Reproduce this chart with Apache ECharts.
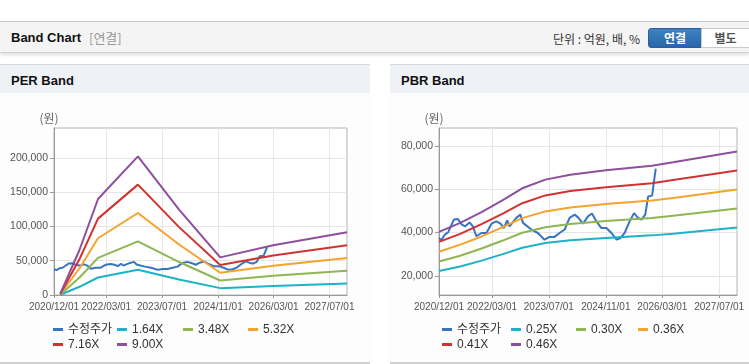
<!DOCTYPE html>
<html><head><meta charset="utf-8">
<script src="https://cdn.jsdelivr.net/npm/echarts@6/dist/echarts.min.js"></script>
<style>
body{margin:0;width:749px;height:364px;overflow:hidden;background:#fff;font-family:'Liberation Sans','Noto Sans CJK KR',sans-serif;position:relative}
.hdr{position:absolute;left:0;top:21px;width:749px;height:30px;border-top:1px solid #c9c9c9;border-bottom:1px solid #d3d3d3;background:#f4f4f4;box-shadow:0 2px 3px rgba(0,0,0,.13)}
.hdr .t{position:absolute;left:11px;top:8px;font-size:13px;font-weight:bold;color:#111}
.hdr .s{position:absolute;left:89px;top:8px;font-size:13px;color:#999;font-family:'Noto Sans CJK KR',sans-serif;line-height:16px}
.hdr .u{position:absolute;left:553px;top:9px;font-size:12px;color:#333;font-family:'Noto Sans CJK KR',sans-serif;line-height:15px}
.btn1{position:absolute;left:648px;top:6px;width:52px;height:18px;background:linear-gradient(#3d82c4,#2866a8);border:1px solid #2a5f99;border-radius:3px 0 0 3px;color:#fff;font-weight:bold;font-size:12px;text-align:center;line-height:18px;font-family:'Noto Sans CJK KR',sans-serif;box-sizing:content-box}
.btn2{position:absolute;left:701px;top:6px;width:47px;height:18px;background:#fff;border:1px solid #c9c9c9;color:#555;font-weight:bold;font-size:12px;text-align:center;line-height:18px;font-family:'Noto Sans CJK KR',sans-serif}
.panel{position:absolute;top:64px;height:297px;background:#fdfdfd;border-top:1px solid #d9d9d9;border-bottom:2px solid #d0d0d0}
.panel .bar{position:absolute;left:0;top:0;right:0;height:28px;background:#eef2f7}
.panel .bar span{position:absolute;left:11px;top:8px;font-size:13px;font-weight:bold;color:#111}
.chart{position:absolute;top:28px;left:0;height:269px}
</style></head>
<body>
<div class="hdr"><span class="t">Band Chart</span><span class="s">[연결]</span><span class="u">단위 : 억원, 배, %</span><div class="btn1">연결</div><div class="btn2">별도</div></div>
<div class="panel" style="left:0;width:370px"><div class="bar"><span>PER Band</span></div><div id="per" class="chart" style="width:370px"></div></div>
<div class="panel" style="left:390px;width:359px"><div class="bar"><span>PBR Band</span></div><div id="pbr" class="chart" style="width:359px"></div></div>
<script>
// ---- data ----
const xLabelDates = ['2020-12-01','2022-03-01','2023-07-01','2024-11-01','2026-03-01','2027-07-01'];
const xMin = '2020-12-01', xMax = '2027-12-01';
const perYTicks = [0,50000,100000,150000,200000];
const pbrYTicks = [20000,40000,60000,80000];

const priceDates = ['2020-12-01','2020-12-21','2021-01-19','2021-02-17','2021-04-08','2021-05-12','2021-06-15','2021-07-14','2021-08-20','2021-09-18','2021-10-17','2021-11-30','2022-01-12','2022-02-24','2022-04-06','2022-05-13','2022-06-10','2022-07-09','2022-07-29','2022-09-25','2022-10-30','2022-11-21','2023-02-02','2023-03-29','2023-05-25','2023-07-07','2023-08-19','2023-10-01','2023-11-14','2023-12-26','2024-02-08','2024-03-12','2024-04-19','2024-06-01','2024-07-05','2024-08-12','2024-09-24','2024-11-06','2024-12-19','2025-02-01','2025-03-08','2025-04-11','2025-05-24','2025-07-01','2025-08-04','2025-09-02','2025-10-05','2025-10-30','2025-12-03','2025-12-17','2026-01-03'];
const priceValues = [37500,36400,39000,40100,46000,46300,43700,42900,44700,42900,38300,39800,39800,44100,45200,44100,42100,45600,42900,46800,48300,44500,41400,39800,36700,38000,38000,39800,41400,46800,48300,46800,44100,47500,48800,45200,42100,42100,39800,36700,37500,39800,45200,49000,46800,46000,48300,56700,57100,62900,69600];

const perNames = ['수정주가','1.64X','3.48X','5.32X','7.16X','9.00X'];
const perBandDates = ['2021-01-25','2021-07-12','2021-12-20','2022-12-03','2023-11-27','2024-11-20','2026-02-25','2027-12-01'];
const perBand1 = [300,12000,25500,36900,22700,10000,13200,16700];
const perBand2 = [700,25500,54100,78200,48100,21200,28000,35400];
const perBand3 = [1100,39000,82800,119600,73600,32500,42800,54100];
const perBand4 = [1400,52500,111400,161000,99000,43700,57600,72700];
const perBand5 = [1800,66000,140000,202300,124500,54900,72500,91400];

const pbrNames = ['수정주가','0.25X','0.30X','0.36X','0.41X','0.46X'];
const pbrBandDates = ['2020-12-01','2021-06-01','2021-12-01','2022-06-01','2022-11-15','2023-06-01','2024-01-01','2024-11-01','2025-12-01','2026-06-01','2027-12-01'];
const pbrBand1 = [22200,24300,27000,30000,33000,35200,36400,37500,38700,39500,42300];
const pbrBand2 = [26600,29300,32600,36300,39900,42500,44000,45300,46700,47800,51100];
const pbrBand3 = [31100,34400,38200,42500,46700,49800,51600,53200,54800,56000,59900];
const pbrBand4 = [35700,39400,43900,48800,53600,57200,59200,61000,62800,64300,68700];
const pbrBand5 = [40300,44500,49500,55000,60500,64500,66800,68800,70900,72500,77500];

const colors = ['#3774c2','#1db2c7','#8fb650','#f4a42c','#d0332f','#8e4f9d'];

// ---- build ----
const FONT = "'Liberation Sans','Noto Sans CJK KR',sans-serif";
function pad(n){return n<10?'0'+n:''+n;}
function t(s){return Date.parse(s);}
function zip(d,v){return d.map((x,i)=>[t(x),v[i]]);}
function fmtDate(v){const d=new Date(v);return d.getUTCFullYear()+'/'+pad(d.getUTCMonth()+1)+'/'+pad(d.getUTCDate());}
function build(cfg){
  const series=[zip(priceDates,priceValues)].concat(cfg.bands.map(b=>zip(cfg.bandDates,b)));
  const xt=xLabelDates.map(t);
  return {
    animation:false,
    color:colors,
    textStyle:{fontFamily:FONT},
    grid:{left:cfg.gl,top:35,width:cfg.gw,height:167,show:true,borderColor:'#b4b4b4',borderWidth:1,backgroundColor:'#fff'},
    legend:{left:cfg.ll,top:229,width:cfg.lw,padding:0,itemWidth:10,itemHeight:3,itemGap:0,icon:'rect',selectedMode:false,
      textStyle:{fontSize:12,color:'#333',fontFamily:FONT,lineHeight:15},
      data:cfg.names.map((n,i)=>({name:n,textStyle:{width:cfg.lws[i]}}))},
    xAxis:{type:'value',min:t(xMin),max:t(xMax),
      axisLine:{lineStyle:{color:'#9a9a9a'}},
      axisTick:{show:true,length:3,lineStyle:{color:'#9a9a9a'},customValues:xt},
      axisLabel:{customValues:xt,color:'#555',fontSize:10,margin:7,hideOverlap:false,showMinLabel:true,showMaxLabel:true,formatter:fmtDate},
      splitLine:{show:true,lineStyle:{color:'#e6e6e6'}}},
    yAxis:{type:'value',min:cfg.ymin,max:cfg.ymax,
      name:'(원)',nameLocation:'end',nameGap:4,nameTextStyle:{color:'#666',fontSize:12,align:'center',padding:[0,10,0,0],fontFamily:"'Noto Sans CJK KR',sans-serif"},
      axisLine:{show:true,lineStyle:{color:'#9a9a9a'}},
      axisTick:{show:true,length:4,lineStyle:{color:'#9a9a9a'},customValues:cfg.yt},
      axisLabel:{customValues:cfg.yt,color:'#555',fontSize:10.5,margin:6,showMinLabel:true,
        formatter:v=>v.toLocaleString('en-US')},
      splitLine:{show:true,lineStyle:{color:'#e6e6e6'}}},
    series:series.map((d,i)=>({name:cfg.names[i],type:'line',data:d,symbol:'none',lineStyle:{width:2},emphasis:{disabled:true}}))
  };
}
echarts.init(document.getElementById('per')).setOption(build({
  names:perNames,bandDates:perBandDates,bands:[perBand1,perBand2,perBand3,perBand4,perBand5],
  gl:54,gw:293,ll:53,lw:262,lws:[49,51,50,50,49,51],ymin:0,ymax:243600,yt:perYTicks}));
echarts.init(document.getElementById('pbr')).setOption(build({
  names:pbrNames,bandDates:pbrBandDates,bands:[pbrBand1,pbrBand2,pbrBand3,pbrBand4,pbrBand5],
  gl:49,gw:298,ll:52,lw:263,lws:[54,50,47,50,54,50],ymin:11100,ymax:88400,yt:pbrYTicks}));
</script>
</body></html>
